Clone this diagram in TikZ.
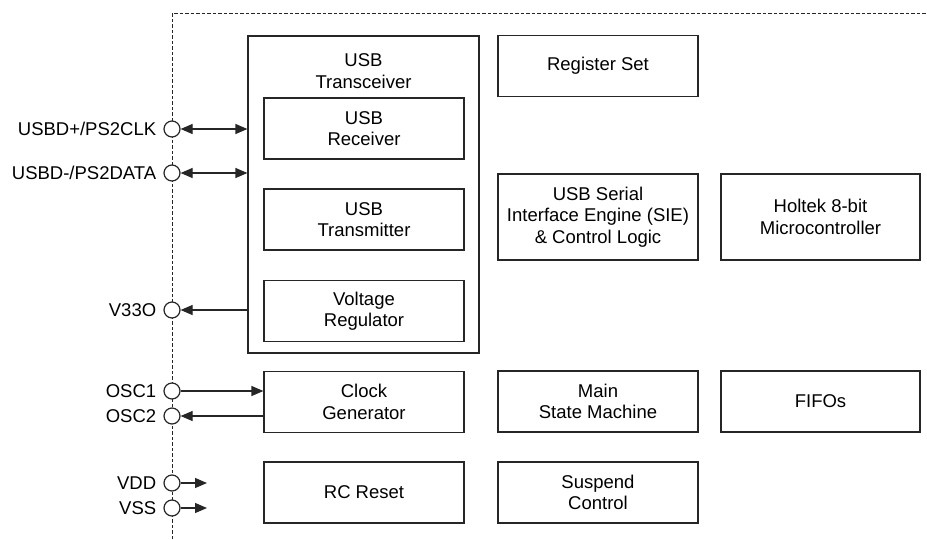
\documentclass[tikz,border=0pt]{standalone}
\usepackage{fontspec}
\setmainfont{Liberation Sans}
\usetikzlibrary{arrows.meta,calc}
\begin{document}
\begin{tikzpicture}[x=1pt,y=-1pt,
  every node/.style={font=\fontsize{18.5}{21.5}\selectfont},
  blk/.style={draw=black!85,line width=1.2pt,minimum width=200pt,minimum height=61pt,inner sep=0pt,align=center},
  pin/.style={circle,draw=black!85,fill=white,line width=1.2pt,minimum size=16pt,inner sep=0pt},
  pinlbl/.style={anchor=east,inner sep=0pt},
  conn/.style={line width=1.2pt,draw=black!85,arrows={-Triangle[length=12pt,width=10pt]}},
  bconn/.style={line width=1.2pt,draw=black!85,arrows={Triangle[length=12pt,width=10pt]-Triangle[length=12pt,width=10pt]}},
  bound/.style={draw=black!85,line width=1pt,dash pattern=on 3.5pt off 2pt}
]
\useasboundingbox (0,0) rectangle (927,539);
% dashed chip boundary
\coordinate (bb) at (172,539);
\coordinate (bc) at (172,13);
\coordinate (br) at (927,13);
\draw[bound] (bb) -- (bc) -- (br);

% transceiver
\node[draw=black!85,line width=1.2pt,minimum width=231pt,minimum height=317pt,inner sep=0pt] (trans) at (363.5,194.5) {};
\node[align=center] (translbl) at (363.5,71) {USB\\Transceiver};
\node[blk] (recv) at (364,128.5) {USB\\Receiver};
\node[blk] (tx) at (364,219.5) {USB\\Transmitter};
\node[blk] (vr) at (364,311) {Voltage\\Regulator};
\node[blk] (clk) at (364,402) {Clock\\Generator};
\node[blk] (rc) at (364,492.5) {RC Reset};

\node[blk] (reg) at (598,66) {Register Set};
\node[blk,minimum height=86pt] (sie) at (598,217) {USB Serial\\Interface Engine (SIE)\\\& Control Logic};
\node[blk,minimum width=199pt,minimum height=86pt] (mcu) at (820.5,217) {Holtek 8-bit\\Microcontroller};
\node[blk] (msm) at (598,401.5) {Main\\State Machine};
\node[blk,minimum width=199pt] (fifo) at (820.5,401.5) {FIFOs};
\node[blk] (susp) at (598,492.5) {Suspend\\Control};

% pins
\node[pin] (p1) at (172,129) {};
\node[pin] (p2) at (172,173) {};
\node[pin] (p3) at (172,310) {};
\node[pin] (p4) at (172,391) {};
\node[pin] (p5) at (172,416) {};
\node[pin] (p6) at (172,483) {};
\node[pin] (p7) at (172,508) {};

\node[pinlbl] (l1) at ($(p1.west)+(-7,0)$) {USBD+/PS2CLK};
\node[pinlbl] (l2) at ($(p2.west)+(-7,0)$) {USBD-/PS2DATA};
\node[pinlbl] (l3) at ($(p3.west)+(-7,0)$) {V33O};
\node[pinlbl] (l4) at ($(p4.west)+(-7,0)$) {OSC1};
\node[pinlbl] (l5) at ($(p5.west)+(-7,0)$) {OSC2};
\node[pinlbl] (l6) at ($(p6.west)+(-7,0)$) {VDD};
\node[pinlbl] (l7) at ($(p7.west)+(-7,0)$) {VSS};

% connectors
\draw[bconn] (p1.east) -- (p1.east -| trans.west);
\draw[bconn] (p2.east) -- (p2.east -| trans.west);
\draw[conn] (p3.east -| trans.west) -- (p3.east);
\draw[conn] (p4.east) -- (p4.east -| clk.west);
\draw[conn] (p5.east -| clk.west) -- (p5.east);
\coordinate (e6) at (207,483);
\coordinate (e7) at (207,508);
\draw[conn] (p6.east) -- (e6);
\draw[conn] (p7.east) -- (e7);
\end{tikzpicture}
\end{document}
